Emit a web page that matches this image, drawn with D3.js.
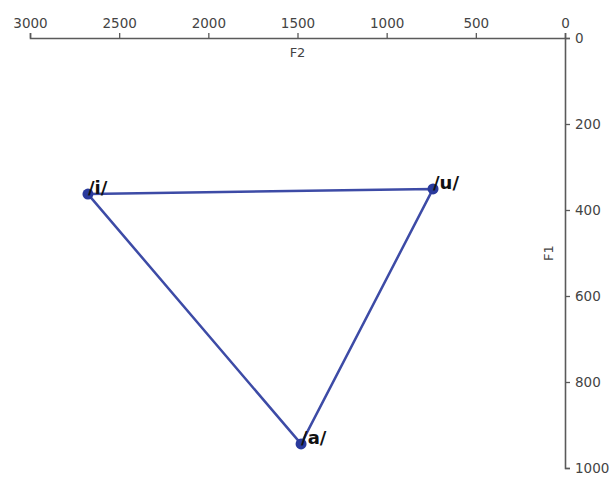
<!DOCTYPE html>
<html><head><meta charset="utf-8">
<script src="https://cdn.jsdelivr.net/npm/d3@7"></script>
<style>body{margin:0;background:#fff}svg{display:block}</style>
</head><body>
<script>
const vowels = ["/i/", "/u/", "/a/"];
const F2 = [2675, 740, 1480];
const F1 = [363, 351, 944];
const xTicks = [3000, 2500, 2000, 1500, 1000, 500, 0];
const yTicks = [0, 200, 400, 600, 800, 1000];

const W = 615, H = 481;
const m = {left: 30, top: 38, right: 50, bottom: 13};
const svg = d3.select("body").append("svg").attr("width", W).attr("height", H);
const x = d3.scaleLinear().domain([3000, 0]).range([m.left, W - m.right]);
const y = d3.scaleLinear().domain([0, 1000]).range([m.top, H - m.bottom]);

const axColor = "#5a5a5a";
const tickFont = "13.5px";
const gx = svg.append("g").attr("transform", `translate(0,${m.top})`)
  .call(d3.axisTop(x).tickValues(xTicks).tickFormat(d3.format("d")).tickSize(5).tickPadding(5));
const gy = svg.append("g").attr("transform", `translate(${W - m.right},0)`)
  .call(d3.axisRight(y).tickValues(yTicks).tickFormat(d3.format("d")).tickSize(5).tickPadding(5));
[gx, gy].forEach(g => {
  g.select(".domain").attr("stroke", axColor).attr("stroke-width", 1.6);
  g.selectAll(".tick line").attr("stroke", axColor).attr("stroke-width", 1.3);
  g.selectAll("text").attr("fill", "#444").style("font-family", "DejaVu Sans").style("font-size", tickFont);
});

svg.append("text").attr("x", (m.left + W - m.right) / 2).attr("y", 57)
  .attr("text-anchor", "middle").attr("fill", "#444")
  .style("font-family", "DejaVu Sans").style("font-size", "13px").text("F2");
svg.append("text").attr("transform", `translate(553,${(m.top + H - m.bottom) / 2}) rotate(-90)`)
  .attr("text-anchor", "middle").attr("fill", "#444")
  .style("font-family", "DejaVu Sans").style("font-size", "13px").text("F1");

const pts = vowels.map((v, i) => ({v, f2: F2[i], f1: F1[i]}));
const line = d3.line().x(d => x(d.f2)).y(d => y(d.f1)).curve(d3.curveLinearClosed);
svg.append("path").datum(pts).attr("d", line).attr("fill", "none")
  .attr("stroke", "#3d4ba6").attr("stroke-width", 2.5).attr("stroke-linejoin", "round");
svg.selectAll("circle.pt").data(pts).join("circle").attr("class", "pt")
  .attr("cx", d => x(d.f2)).attr("cy", d => y(d.f1)).attr("r", 5.5).attr("fill", "#2a3a9c");
svg.selectAll("text.lab").data(pts).join("text").attr("class", "lab")
  .attr("x", d => x(d.f2)).attr("y", d => y(d.f1))
  .attr("fill", "#111").style("font-family", "DejaVu Sans").style("font-weight", "bold")
  .style("font-size", "18px").text(d => d.v);
</script>
</body></html>
